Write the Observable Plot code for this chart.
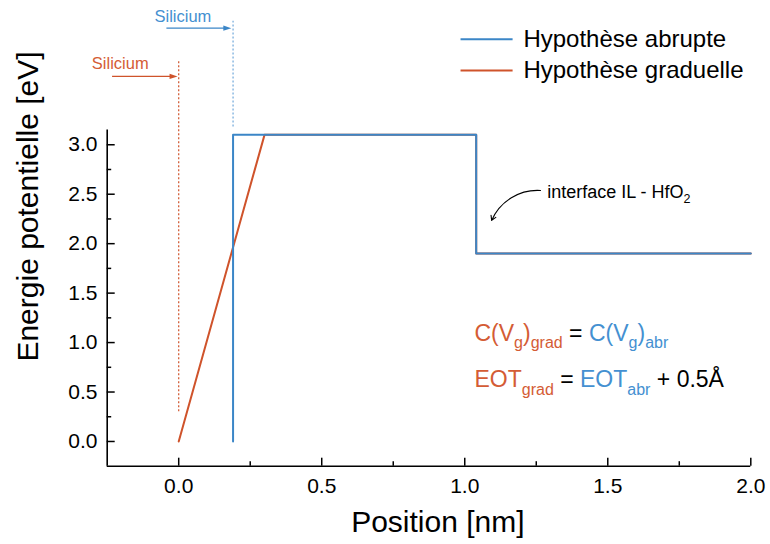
<!DOCTYPE html>
<html><head><meta charset="utf-8">
<script src="https://cdn.jsdelivr.net/npm/d3@7"></script>
<script src="https://cdn.jsdelivr.net/npm/@observablehq/plot@0.6"></script>
<style>html,body{margin:0;padding:0;background:#fff}</style>
</head><body><div id="chart"></div>
<script>
// ---------- data ----------
const seriesNames = ["Hypothèse abrupte", "Hypothèse graduelle"];
const abruptX = [0.19, 0.19, 1.04, 1.04, 2.0];
const abruptY = [0.0, 3.1, 3.1, 1.9, 1.9];
const gradX = [0.0, 0.30, 1.04, 1.04, 2.0];
const gradY = [0.0, 3.1, 3.1, 1.9, 1.9];
const xMajor = [0, 0.5, 1.0, 1.5, 2.0];
const xMinor = [0.25, 0.75, 1.25, 1.75];
const yMajor = [0, 0.5, 1.0, 1.5, 2.0, 2.5, 3.0];
const yMinor = [0.25, 0.75, 1.25, 1.75, 2.25, 2.75];
const xLabel = "Position [nm]";
const yLabel = "Energie potentielle [eV]";
const siliconLabel = "Silicium";
const interfaceSegs = [{t: "interface IL - HfO", c: "k"}, {t: "2", c: "k", sub: 1}];
const eqLine1 = [{t: "C(V", c: "o"}, {t: "g", c: "o", sub: 1}, {t: ")", c: "o"}, {t: "grad", c: "o", sub: 1},
                 {t: " = ", c: "k"}, {t: "C(V", c: "b"}, {t: "g", c: "b", sub: 1}, {t: ")", c: "b"}, {t: "abr", c: "b", sub: 1}];
const eqLine2 = [{t: "EOT", c: "o"}, {t: "grad", c: "o", sub: 1}, {t: " = ", c: "k"},
                 {t: "EOT", c: "b"}, {t: "abr", c: "b", sub: 1}, {t: " + 0.5Å", c: "k"}];

// ---------- styles / layout ----------
const blue = "#3b86c7", orange = "#cf532b";
const blueText = "#4490d1", orangeText = "#d45c35", blueDot = "#6fa8da";
const colorOf = {o: orangeText, b: blueText, k: "#000"};
const font = "'Liberation Sans', Arial, Helvetica, sans-serif";

const abrupt = abruptX.map((x, i) => ({x, y: abruptY[i]}));
const grad = gradX.map((x, i) => ({x, y: gradY[i]}));
const plain = segs => segs.map(s => s.t).join("");

// filled arrow head shape for Plot.vector (tip at origin, pointing "up")
const headShape = {draw(ctx, l) { ctx.moveTo(0, 0); ctx.lineTo(2.6, l); ctx.lineTo(-2.6, l); ctx.closePath(); }};

const chart = Plot.plot({
  width: 770, height: 544,
  marginLeft: 106.7, marginRight: 19.7, marginTop: 5.8, marginBottom: 78.3,
  x: {domain: [-0.25, 2.0]},
  y: {domain: [-0.25, 4.4]},
  style: {fontFamily: font, background: "white", color: "black", overflow: "visible"},
  marks: [
    // axes
    Plot.axisX({ticks: xMajor, tickSize: -8, tickPadding: 19.8, tickFormat: d3.format(".1f"), fontSize: 21, strokeWidth: 1.5, label: null}),
    Plot.axisX({ticks: xMinor, tickSize: -4.5, fill: "none", strokeWidth: 1.5, label: null}),
    Plot.axisY({ticks: yMajor, tickSize: -8, tickPadding: 17.7, tickFormat: d3.format(".1f"), fontSize: 21, strokeWidth: 1.5, label: null}),
    Plot.axisY({ticks: yMinor, tickSize: -4.5, fill: "none", strokeWidth: 1.5, label: null}),
    Plot.ruleX([-0.25], {y1: -0.25, y2: 3.15, strokeWidth: 1.6}),
    Plot.ruleY([-0.25], {x1: -0.25, x2: 2.0, strokeWidth: 1.6}),
    Plot.text([xLabel], {x: 0.906, y: -0.82, text: d => d, fontSize: 30}),
    Plot.text([yLabel], {x: -0.525, y: 2.376, text: d => d, fontSize: 30, rotate: -90}),

    // silicon edge markers
    Plot.ruleX([siliconEdges0()], {y1: 0.3, y2: 3.84, stroke: orange, strokeWidth: 1.2, strokeDasharray: "2,2"}),
    Plot.ruleX([abruptX[0]], {y1: 3.18, y2: 4.25, stroke: blueDot, strokeWidth: 1.2, strokeDasharray: "2,2"}),
    Plot.link([{x1: -0.233, x2: -0.02, y: 3.691}], {x1: "x1", x2: "x2", y1: "y", y2: "y", stroke: orange, strokeWidth: 1.2}),
    Plot.vector([{x: -0.004, y: 3.691}], {x: "x", y: "y", rotate: 90, length: 8, anchor: "start", shape: headShape, fill: orange, stroke: "none"}),
    Plot.link([{x1: -0.043, x2: 0.165, y: 4.179}], {x1: "x1", x2: "x2", y1: "y", y2: "y", stroke: blue, strokeWidth: 1.2}),
    Plot.vector([{x: 0.184, y: 4.179}], {x: "x", y: "y", rotate: 90, length: 8, anchor: "start", shape: headShape, fill: blue, stroke: "none"}),
    Plot.text([siliconLabel], {x: -0.2045, y: 3.82, text: d => d, fontSize: 16.5, fill: orangeText}),
    Plot.text([siliconLabel], {x: 0.0147, y: 4.294, text: d => d, fontSize: 16.5, fill: blueText}),

    // profiles
    Plot.line(grad, {x: "x", y: "y", stroke: orange, strokeWidth: 2}),
    Plot.line(abrupt, {x: "x", y: "y", stroke: blue, strokeWidth: 2}),

    // legend
    Plot.ruleY([4.068], {x1: 0.987, x2: 1.169, stroke: blue, strokeWidth: 2}),
    Plot.ruleY([3.751], {x1: 0.987, x2: 1.169, stroke: orange, strokeWidth: 2}),
    Plot.text([seriesNames[0]], {x: 1.205, y: 4.068, text: d => d, fontSize: 24, textAnchor: "start"}),
    Plot.text([seriesNames[1]], {x: 1.205, y: 3.751, text: d => d, fontSize: 24, textAnchor: "start"}),

    // interface annotation
    Plot.arrow([{x1: 1.265, y1: 2.538, x2: 1.094, y2: 2.235}], {x1: "x1", y1: "y1", x2: "x2", y2: "y2", bend: -35, headLength: 7, strokeWidth: 1.1, stroke: "black"}),
    Plot.text([plain(interfaceSegs)], {x: 1.288, y: 2.464, text: d => d, fontSize: 18, textAnchor: "start", lineAnchor: "bottom"}),

    // equations
    Plot.text([plain(eqLine1)], {x: 1.034, y: 1.014, text: d => d, fontSize: 23, textAnchor: "start", lineAnchor: "bottom"}),
    Plot.text([plain(eqLine2)], {x: 1.034, y: 0.549, text: d => d, fontSize: 23, textAnchor: "start", lineAnchor: "bottom"})
  ]
});

function siliconEdges0() { return gradX[0]; }

function richify(svg, segs, subFont, shift) {
  const str = plain(segs);
  d3.select(svg).selectAll("text").filter(function () { return this.textContent === str; }).each(function () {
    const t = d3.select(this).style("white-space", "pre");
    t.text(null);
    let down = false;
    for (const s of segs) {
      const ts = t.append("tspan").text(s.t).attr("fill", colorOf[s.c]);
      if (s.sub) {
        ts.attr("font-size", subFont);
        if (!down) { ts.attr("dy", shift); down = true; }
      } else if (down) { ts.attr("dy", -shift); down = false; }
    }
  });
}
richify(chart, eqLine1, 16, 7);
richify(chart, eqLine2, 16, 8);
richify(chart, interfaceSegs, 12.5, 5);

document.getElementById("chart").appendChild(chart);
</script>
</body></html>
